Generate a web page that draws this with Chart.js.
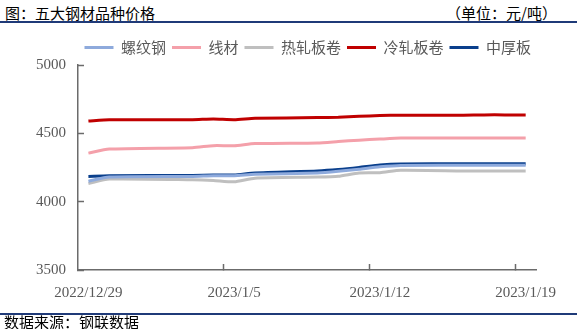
<!DOCTYPE html>
<html>
<head>
<meta charset="utf-8">
<script src="https://cdn.jsdelivr.net/npm/chart.js@4.4.0/dist/chart.umd.min.js"></script>
<style>
  body { margin: 0; background: #fff; }
  #wrap { position: relative; width: 577px; height: 329px; overflow: hidden; font-family: "Noto Sans CJK SC", sans-serif; }
  #title { position: absolute; left: 5px; top: 2px; font-size: 15px; color: #000; }
  #unit { position: absolute; right: 20px; top: 2px; font-size: 15px; color: #000; }
  .rule { position: absolute; left: 0; width: 577px; height: 2px; background: #1f3a78; }
  #source { position: absolute; left: 4px; top: 311px; font-size: 15px; color: #000; }
  #myChart { position: absolute; left: 0; top: 0; }
</style>
</head>
<body>
<div id="wrap">
  <div id="title">图：五大钢材品种价格</div>
  <div id="unit">（单位：元/吨）</div>
  <div class="rule" style="top:21px"></div>
  <canvas id="myChart" width="577" height="329"></canvas>
  <div class="rule" style="top:313px"></div>
  <div id="source">数据来源：钢联数据</div>
</div>
<script>
// calendar days on the x axis, one slot per day
const days = ['2022/12/29', '2022/12/30', '2022/12/31', '2023/1/1', '2023/1/2', '2023/1/3', '2023/1/4',
    '2023/1/5', '2023/1/6', '2023/1/7', '2023/1/8', '2023/1/9', '2023/1/10', '2023/1/11',
    '2023/1/12', '2023/1/13', '2023/1/14', '2023/1/15', '2023/1/16', '2023/1/17', '2023/1/18', '2023/1/19'];

// days with quotes
const tradeDays = ['2022/12/29', '2022/12/30', '2023/1/3', '2023/1/4', '2023/1/5', '2023/1/6', '2023/1/9',
    '2023/1/10', '2023/1/11', '2023/1/12', '2023/1/13', '2023/1/16', '2023/1/17', '2023/1/18', '2023/1/19'];

// prices, yuan per ton
const rebar    = [4150, 4180, 4185, 4190, 4190, 4200, 4210, 4222, 4238, 4255, 4265, 4266, 4266, 4266, 4266];
const wireRod  = [4355, 4385, 4395, 4410, 4410, 4425, 4430, 4440, 4450, 4458, 4465, 4465, 4465, 4465, 4465];
const hotRoll  = [4132, 4165, 4160, 4155, 4145, 4172, 4180, 4186, 4210, 4212, 4230, 4225, 4225, 4225, 4225];
const coldRoll = [4590, 4600, 4600, 4605, 4600, 4610, 4615, 4618, 4625, 4630, 4633, 4633, 4635, 4635, 4635];
const plate    = [4185, 4190, 4192, 4195, 4195, 4210, 4225, 4235, 4250, 4268, 4276, 4278, 4278, 4278, 4278];

const names  = ['螺纹钢', '线材', '热轧板卷', '冷轧板卷', '中厚板'];
const series = [rebar, wireRod, hotRoll, coldRoll, plate];
const colors = ['#8eaadc', '#f4a0aa', '#bfbfbf', '#c00000', '#0a3f8c'];

const yTicks = [3500, 4000, 4500, 5000];
const axisColor = '#6b6b6b';
const tickFont = { family: '"Liberation Serif", "Times New Roman", serif', size: 15 };

const toPoints = vals => tradeDays.map((d, i) => ({ x: d, y: vals[i] }));

let ctx = document.getElementById('myChart').getContext('2d');
let chart = new Chart(ctx, {
    type: 'line',
    data: {
        labels: days,
        datasets: series.map((vals, i) => ({
            label: names[i],
            data: toPoints(vals),
            borderColor: colors[i],
            backgroundColor: colors[i],
            borderWidth: 3,
            pointRadius: 0,
            tension: 0.2
        }))
    },
    options: {
        animation: false,
        responsive: false,
        layout: { padding: { left: 18, right: 40, top: 34, bottom: 7 } },
        plugins: {
            tooltip: { enabled: false },
            legend: {
                align: 'end',
                labels: {
                    boxWidth: 29,
                    boxHeight: 0,
                    padding: 6,
                    color: '#595959',
                    font: { family: '"Noto Sans CJK SC", sans-serif', size: 15 }
                }
            }
        },
        scales: {
            x: {
                offset: true,
                border: { color: axisColor, width: 1.5 },
                grid: {
                    offset: true,
                    drawOnChartArea: false,
                    tickLength: -6,
                    tickWidth: 1.5,
                    tickColor: c => (c.index > 0 && c.index % 7 === 0) ? axisColor : 'transparent'
                },
                ticks: {
                    autoSkip: false,
                    maxRotation: 0,
                    padding: 20,
                    color: '#595959',
                    font: tickFont,
                    callback: (v, i) => i % 7 === 0 ? days[i] : ''
                }
            },
            y: {
                min: 3500,
                max: 5000,
                afterBuildTicks: axis => { axis.ticks = yTicks.map(v => ({ value: v })); },
                border: { color: axisColor, width: 1.5 },
                grid: {
                    drawOnChartArea: false,
                    tickLength: -6,
                    tickWidth: 1.5,
                    tickColor: axisColor
                },
                ticks: {
                    padding: 18,
                    color: '#595959',
                    font: tickFont,
                    callback: v => String(v)
                }
            }
        }
    }
});
</script>
</body>
</html>
